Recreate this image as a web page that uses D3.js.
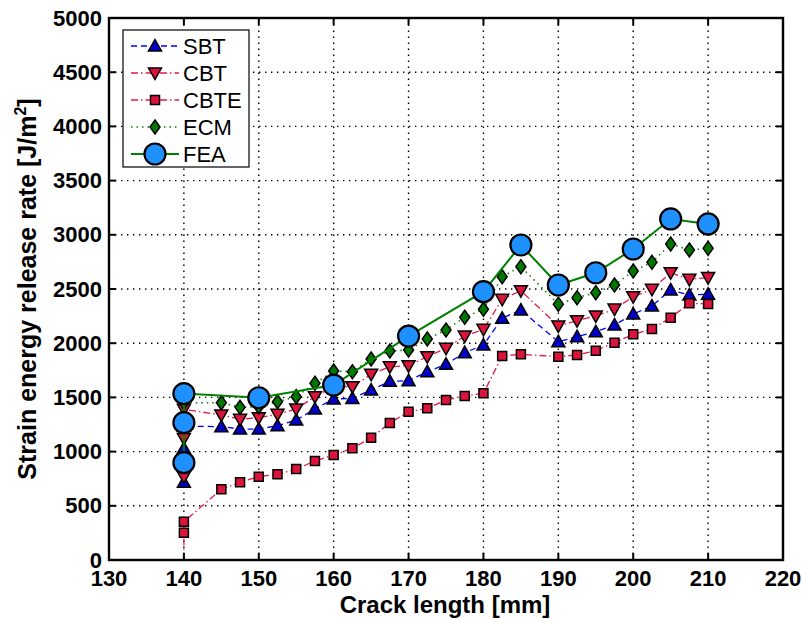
<!DOCTYPE html>
<html>
<head>
<meta charset="utf-8">
<script src="https://cdn.jsdelivr.net/npm/d3@7"></script>
<style>
  body { margin: 0; background: #fff; }
  svg text { font-family: "Liberation Sans", Arial, sans-serif; }
</style>
</head>
<body>
<main></main>
<script>
// crack length [mm] and strain energy release rate [J/m^2]
const sbtX = [140, 140, 140, 145, 147.5, 150, 152.5, 155, 157.5, 160, 162.5, 165, 167.5, 170, 172.5, 175, 177.5, 180, 182.5, 185, 190, 192.5, 195, 197.5, 200, 202.5, 205, 207.5, 210];
const sbtY = [717, 1030, 1235, 1230, 1208, 1208, 1239, 1291, 1393, 1485, 1491, 1568, 1648, 1654, 1737, 1805, 1913, 1983, 2230, 2306, 2014, 2060, 2106, 2168, 2269, 2343, 2491, 2445, 2451];
const cbtX = sbtX;
const cbtY = [769, 1122, 1390, 1338, 1298, 1313, 1344, 1393, 1507, 1600, 1599, 1713, 1783, 1793, 1876, 1953, 2066, 2128, 2405, 2484, 2159, 2208, 2251, 2315, 2429, 2497, 2650, 2589, 2605];
const cbteX = [140, 140, 140, 145, 147.5, 150, 152.5, 155, 157.5, 160, 162.5, 165, 167.5, 170, 172.5, 175, 177.5, 180, 182.5, 185, 190, 192.5, 195, 197.5, 200, 202.5, 205, 207.5, 210];
const cbteY = [0, 252, 353, 652, 717, 769, 790, 839, 913, 969, 1030, 1128, 1264, 1368, 1399, 1476, 1513, 1538, 1882, 1897, 1876, 1891, 1931, 2005, 2082, 2131, 2235, 2368, 2362];
const ecmX = sbtX;
const ecmY = [900, 1280, 1450, 1451, 1408, 1414, 1460, 1507, 1630, 1743, 1737, 1854, 1928, 1937, 2039, 2122, 2239, 2313, 2614, 2706, 2360, 2420, 2466, 2537, 2666, 2746, 2915, 2860, 2875];
const feaX = [140, 140, 140, 150, 160, 170, 180, 185, 190, 195, 200, 205, 210];
const feaY = [898, 1267, 1535, 1497, 1614, 2066, 2475, 2906, 2537, 2650, 2869, 3146, 3100];

const xTicks = [130, 140, 150, 160, 170, 180, 190, 200, 210, 220];
const yTicks = [0, 500, 1000, 1500, 2000, 2500, 3000, 3500, 4000, 4500, 5000];

const w = 803, h = 619;
const m = { left: 109, right: 20, top: 18, bottom: 59 };

const svg = d3.select('main').append('svg').attr('width', w).attr('height', h);

const x = d3.scaleLinear().domain([130, 220]).range([m.left, w - m.right]);
const y = d3.scaleLinear().domain([0, 5000]).range([h - m.bottom, m.top]);

// grid
const grid = svg.append('g').attr('stroke', '#000').attr('stroke-width', 1.4)
    .attr('stroke-dasharray', '1.4,4.6');
grid.selectAll('.gx').data(xTicks.slice(1, -1)).enter().append('line')
    .attr('x1', d => x(d)).attr('x2', d => x(d))
    .attr('y1', y(0)).attr('y2', y(5000));
grid.selectAll('.gy').data(yTicks.slice(1, -1)).enter().append('line')
    .attr('y1', d => y(d)).attr('y2', d => y(d))
    .attr('x1', x(130)).attr('x2', x(220));

const series = [
    { name: 'SBT', xs: sbtX, ys: sbtY, stroke: '#0000ff', dash: '6,4', lw: 1.3, shape: 'up', fill: '#0000c8' },
    { name: 'CBT', xs: cbtX, ys: cbtY, stroke: '#e8194a', dash: '7,3,1.5,3', lw: 1.3, shape: 'down', fill: '#dc143c' },
    { name: 'CBTE', xs: cbteX, ys: cbteY, stroke: '#e8194a', dash: '7,3,1.5,3', lw: 1.3, shape: 'square', fill: '#dc143c' },
    { name: 'ECM', xs: ecmX, ys: ecmY, stroke: '#008000', dash: '1.5,4', lw: 1.5, shape: 'diamond', fill: '#007800' },
    { name: 'FEA', xs: feaX, ys: feaY, stroke: '#008000', dash: null, lw: 2, shape: 'circle', fill: '#1e90ff' }
];

function marker(g, shape, cx, cy) {
    let p;
    if (shape === 'up') p = `M${cx},${cy - 6.5}L${cx + 6.5},${cy + 5}L${cx - 6.5},${cy + 5}Z`;
    if (shape === 'down') p = `M${cx},${cy + 6.5}L${cx + 6.5},${cy - 5}L${cx - 6.5},${cy - 5}Z`;
    if (shape === 'square') p = `M${cx - 4.5},${cy - 4.5}h9v9h-9Z`;
    if (shape === 'diamond') p = `M${cx},${cy - 7}L${cx + 5},${cy}L${cx},${cy + 7}L${cx - 5},${cy}Z`;
    if (shape === 'circle') {
        return g.append('circle').attr('cx', cx).attr('cy', cy).attr('r', 10.5);
    }
    return g.append('path').attr('d', p);
}

const line = d3.line().x(d => x(d[0])).y(d => y(d[1]));

series.forEach(s => {
    const pts = s.xs.map((v, i) => [v, s.ys[i]]);
    svg.append('path').datum(pts)
        .attr('d', line)
        .attr('fill', 'none')
        .attr('stroke', s.stroke)
        .attr('stroke-width', s.lw)
        .attr('stroke-dasharray', s.dash);
    const mg = svg.append('g').attr('fill', s.fill).attr('stroke', '#000')
        .attr('stroke-width', s.shape === 'circle' ? 2.2 : 1.5);
    pts.filter(d => d[1] > 0).forEach(d => marker(mg, s.shape, x(d[0]), y(d[1])));
});

// axes box with inward ticks
const ax = svg.append('g');
ax.append('rect').attr('x', x(130)).attr('y', y(5000))
    .attr('width', x(220) - x(130)).attr('height', y(0) - y(5000))
    .attr('fill', 'none').attr('stroke', '#000').attr('stroke-width', 2.4);
const tl = 7;
xTicks.forEach(t => {
    ax.append('line').attr('x1', x(t)).attr('x2', x(t)).attr('y1', y(0)).attr('y2', y(0) - tl)
        .attr('stroke', '#000').attr('stroke-width', 2);
    ax.append('line').attr('x1', x(t)).attr('x2', x(t)).attr('y1', y(5000)).attr('y2', y(5000) + tl)
        .attr('stroke', '#000').attr('stroke-width', 2);
    ax.append('text').attr('x', x(t)).attr('y', y(0) + 26)
        .attr('text-anchor', 'middle').attr('font-size', 22).attr('font-weight', 'bold').text(t);
});
yTicks.forEach(t => {
    ax.append('line').attr('x1', x(130)).attr('x2', x(130) + tl).attr('y1', y(t)).attr('y2', y(t))
        .attr('stroke', '#000').attr('stroke-width', 2);
    ax.append('line').attr('x1', x(220)).attr('x2', x(220) - tl).attr('y1', y(t)).attr('y2', y(t))
        .attr('stroke', '#000').attr('stroke-width', 2);
    ax.append('text').attr('x', x(130) - 7).attr('y', y(t) + 7.5)
        .attr('text-anchor', 'end').attr('font-size', 22).attr('font-weight', 'bold').text(t);
});

svg.append('text').attr('x', 445).attr('y', 613)
    .attr('text-anchor', 'middle').attr('font-size', 24).attr('font-weight', 'bold')
    .text('Crack length [mm]');

const yl = svg.append('text').attr('transform', `translate(36,${(y(0) + y(5000)) / 2}) rotate(-90)`)
    .attr('text-anchor', 'middle').attr('font-size', 25).attr('font-weight', 'bold');
yl.append('tspan').text('Strain energy release rate [J/m');
yl.append('tspan').attr('font-size', 16).attr('dy', -10).text('2');
yl.append('tspan').attr('dy', 10).text(']');

// legend
const lg = svg.append('g').attr('transform', 'translate(123,30)');
lg.append('rect').attr('width', 126).attr('height', 137)
    .attr('fill', '#fff').attr('stroke', '#000').attr('stroke-width', 1.2);
series.forEach((s, i) => {
    const cy = 16 + i * 27;
    lg.append('line').attr('x1', 8).attr('x2', 56).attr('y1', cy).attr('y2', cy)
        .attr('stroke', s.stroke).attr('stroke-width', s.lw).attr('stroke-dasharray', s.dash);
    const mg = lg.append('g').attr('fill', s.fill).attr('stroke', '#000')
        .attr('stroke-width', s.shape === 'circle' ? 2.2 : 1.5);
    marker(mg, s.shape, 32, cy);
    lg.append('text').attr('x', 60).attr('y', cy + 8).attr('font-size', 22).text(s.name);
});
</script>
</body>
</html>
